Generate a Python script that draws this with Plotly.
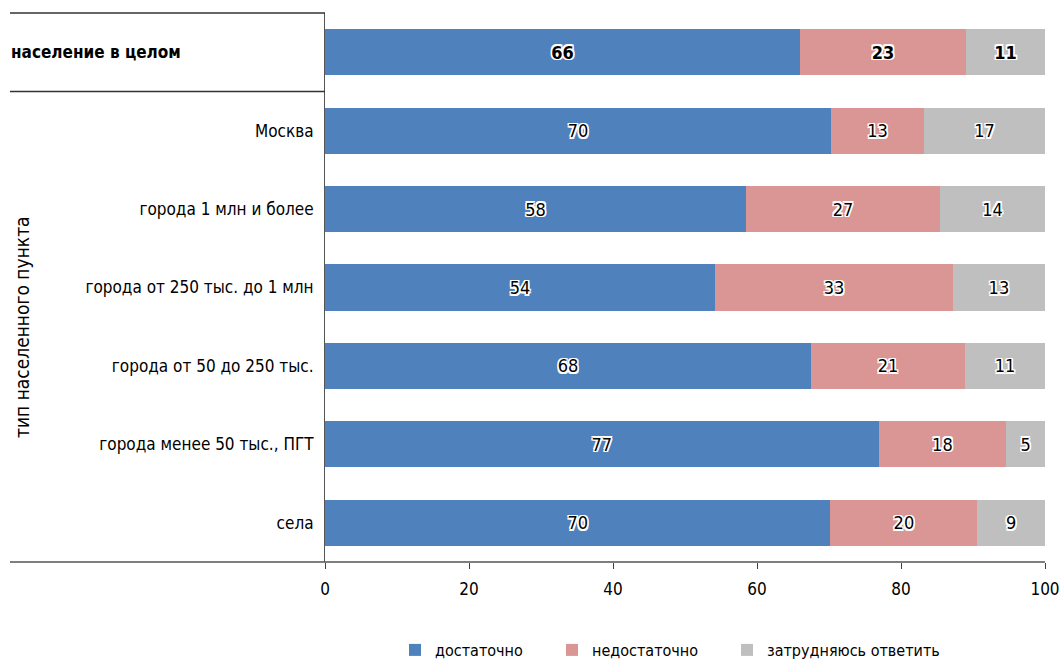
import plotly.graph_objects as go

categories = ["население в целом", "Москва", "города 1 млн и более",
              "города от 250 тыс. до 1 млн", "города от 50 до 250 тыс.",
              "города менее 50 тыс., ПГТ", "села"]
series_names = ["достаточно", "недостаточно", "затрудняюсь ответить"]
dost = [66.0, 70.3, 58.5, 54.2, 67.5, 76.9, 70.2]
nedost = [23.0, 12.9, 26.9, 33.0, 21.4, 17.7, 20.4]
zatr = [11.0, 16.8, 14.6, 12.8, 11.1, 5.4, 9.4]
lab_dost = [66, 70, 58, 54, 68, 77, 70]
lab_nedost = [23, 13, 27, 33, 21, 18, 20]
lab_zatr = [11, 17, 14, 13, 11, 5, 9]
x_ticks = [0, 20, 40, 60, 80, 100]
axis_title = "тип населенного пункта"

FONT = "DejaVu Sans Condensed, Liberation Sans Narrow, Roboto, sans-serif"
colors = ["#4F81BD", "#D99694", "#BFBFBF"]
halo = ("1.5px 1.5px 0 #fff, -1.5px -1.5px 0 #fff, 1.5px -1.5px 0 #fff, "
        "-1.5px 1.5px 0 #fff, 0 1.5px 0 #fff, 1.5px 0 0 #fff, 0 -1.5px 0 #fff, "
        "-1.5px 0 0 #fff")

W, H = 1063, 661
left_px = 10
L, R, T, B = 325, 18, 13, 99
pw = W - L - R
ph = H - T - B
xl = (left_px - L) / pw
legend_ids = ["legend", "legend2", "legend3"]
legend_left_px = [395, 552, 727]


def labels(vals):
    return [("<b>%d</b>" % v) if i == 0 else str(v) for i, v in enumerate(vals)]


fig = go.Figure()
for name, vals, labs, col, lid in zip(series_names, [dost, nedost, zatr],
                                      [lab_dost, lab_nedost, lab_zatr],
                                      colors, legend_ids):
    fig.add_trace(go.Bar(
        y=categories, x=vals, name=name, orientation="h", legend=lid,
        marker=dict(color=col, line=dict(width=0)),
        text=labels(labs), textposition="inside", insidetextanchor="middle",
        textangle=0, constraintext="none",
        textfont=dict(family=FONT, size=18, color="#000", shadow=halo),
        hoverinfo="skip",
    ))

legend_common = dict(orientation="h", xref="container", xanchor="left",
                     yref="container", y=(H - 650) / H, yanchor="middle",
                     font=dict(size=16), itemwidth=30,
                     bgcolor="rgba(0,0,0,0)")
legends = {}
for lid, lx in zip(legend_ids, legend_left_px):
    legends[lid] = dict(legend_common, x=lx / W)

fig.update_layout(
    barmode="stack", bargap=0.41,
    width=W, height=H,
    margin=dict(l=L, r=R, t=T, b=B, autoexpand=False),
    plot_bgcolor="white", paper_bgcolor="white",
    font=dict(family=FONT, size=16, color="#000"),
    showlegend=True,
    xaxis=dict(range=[0, 100], tickvals=x_ticks, showgrid=False,
               zeroline=False, showline=False, ticks="outside", ticklen=6,
               tickcolor="#404040", tickfont=dict(size=17), automargin=False,
               ticklabelstandoff=6, fixedrange=True),
    yaxis=dict(autorange="reversed", tickvals=categories, automargin=False,
               ticktext=[""] + categories[1:], showgrid=False, zeroline=False,
               showline=True, linecolor="#555", linewidth=1, ticks="",
               ticklabelstandoff=7, tickfont=dict(size=17), fixedrange=True),
    **legends,
)

shapes = [
    dict(type="line", xref="paper", yref="paper", x0=xl, x1=1, y0=0, y1=0,
         line=dict(color="#555", width=1.5)),
    dict(type="line", xref="paper", yref="paper", x0=xl, x1=0, y0=1, y1=1,
         line=dict(color="#333", width=1.5)),
    dict(type="line", xref="paper", yref="y", x0=xl, x1=0, y0=0.5, y1=0.5,
         line=dict(color="#333", width=1.5)),
]
fig.update_layout(shapes=shapes)

fig.add_annotation(xref="paper", yref="y", x=xl, y=categories[0],
                   text="<b>" + categories[0] + "</b>", showarrow=False,
                   xanchor="left", yanchor="middle", borderpad=0,
                   font=dict(size=17))
fig.add_annotation(xref="paper", yref="paper", x=(22 - L) / pw,
                   y=(562 - 327) / ph, text=axis_title, textangle=-90,
                   showarrow=False, xanchor="center", yanchor="middle",
                   font=dict(size=19))

fig.write_html("out.html", config={"displayModeBar": False},
               post_script="document.body.style.margin='0';"
                           "document.body.style.overflow='hidden';")
